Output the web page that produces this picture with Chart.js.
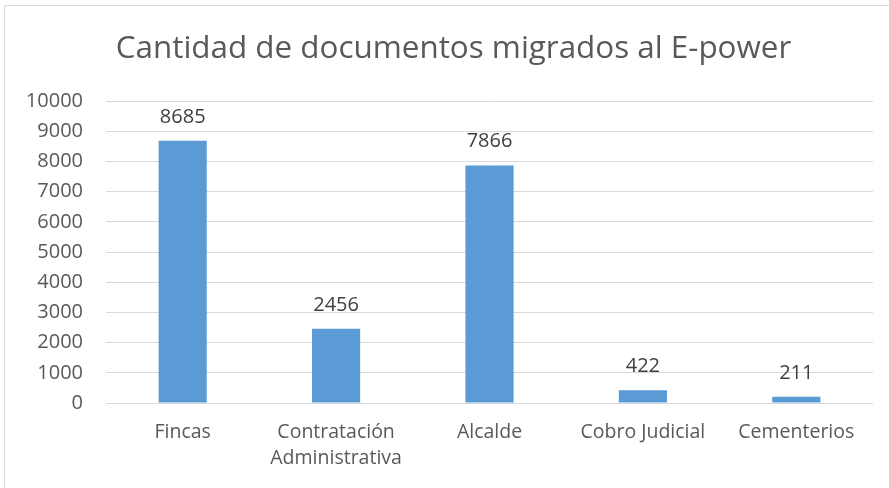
<!DOCTYPE html>
<html><head><meta charset="utf-8">
<script src="https://cdn.jsdelivr.net/npm/chart.js@4/dist/chart.umd.min.js"></script>
<style>
html,body{margin:0;padding:0;background:#fff;overflow:hidden;}
#wrap{position:relative;width:889px;height:488px;overflow:hidden;}
#frame{position:absolute;left:4px;top:5px;width:900px;height:600px;border:1px solid #d9d9d9;box-sizing:border-box;}
canvas{position:absolute;left:0;top:0;}
</style></head><body>
<div id="wrap"><div id="frame"></div><canvas id="c" width="907" height="488"></canvas></div>
<script>
const categories = ["Fincas", ["Contratación","Administrativa"], "Alcalde", "Cobro Judicial", "Cementerios"];
const values = [8685, 2456, 7866, 422, 211];
const yTicks = [0,1000,2000,3000,4000,5000,6000,7000,8000,9000,10000];
const titleText = "Cantidad de documentos migrados al E-power";
const FONT = "'Open Sans'";

const labelPlugin = {
  id:'barLabels',
  afterDatasetsDraw(chart){
    const ctx = chart.ctx;
    const meta = chart.getDatasetMeta(0);
    ctx.save();
    ctx.font = '20px ' + FONT;
    ctx.fillStyle = '#404040';
    ctx.textAlign = 'center';
    ctx.textBaseline = 'alphabetic';
    meta.data.forEach((bar,i)=>{
      ctx.fillText(String(values[i]), bar.x, bar.y - 18);
    });
    // chart title, centred on the chart frame
    ctx.font = '31.4px ' + FONT;
    ctx.fillStyle = '#595959';
    ctx.fillText(titleText, chart.width / 2, 58);
    ctx.restore();
  }
};

new Chart(document.getElementById('c'), {
  type:'bar',
  data:{labels:categories, datasets:[{data:values, backgroundColor:'#5b9bd5', categoryPercentage:1, barPercentage:0.314}]},
  options:{
    responsive:false, animation:false,
    layout:{padding:{left:0,right:34,top:101,bottom:0}},
    plugins:{
      legend:{display:false}, tooltip:{enabled:false}, title:{display:false}
    },
    scales:{
      y:{min:0,max:10000,
        afterBuildTicks(s){ s.ticks = yTicks.map(v=>({value:v})); },
        afterFit(s){ s.width = 106; },
        grid:{color:'#d9d9d9', drawTicks:false, lineWidth:1},
        border:{display:false},
        ticks:{color:'#595959', font:{family:FONT, size:20}, padding:23, callback:(v)=>String(v)}
      },
      x:{
        afterFit(s){ s.height = 85; },
        grid:{display:false, drawTicks:false},
        border:{display:false},
        ticks:{color:'#595959', font:{family:FONT, size:19.5, lineHeight:1.35}, padding:16, maxRotation:0, autoSkip:false}
      }
    }
  },
  plugins:[labelPlugin]
});
</script>
</body></html>
